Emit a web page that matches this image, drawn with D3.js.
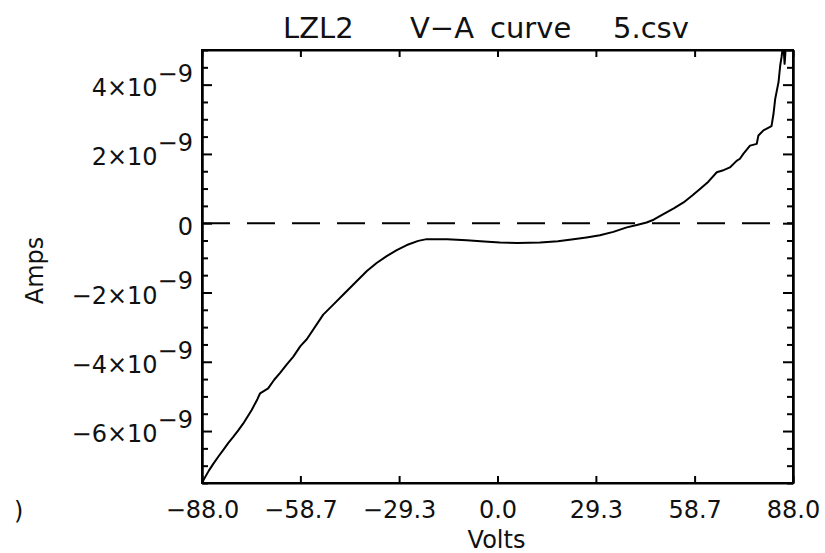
<!DOCTYPE html>
<html>
<head>
<meta charset="utf-8">
<script src="https://cdn.jsdelivr.net/npm/d3@7"></script>
<style>
	body { margin: 0; background: #fff; }
	svg { display: block; font-family: 'DejaVu Sans', sans-serif; }
	.axis path, .axis line { stroke: #000; stroke-width: 2; }
	.axis text { font-family: 'DejaVu Sans', sans-serif; font-size: 24px; fill: #111; }
	.label { font-size: 24px; fill: #111; }
	.title { font-size: 29px; fill: #111; }
</style>
</head>
<body>
<div class="chart"></div>
<script>
'use strict';

// Data: volts and current in nanoamps (1e-9 A).
var volts = [
	-88.0, -87.6, -86.0, -84.6, -83.0, -81.7, -80.2, -78.7, -77.2, -75.7,
	-73.2, -71.5, -70.7, -68.3, -66.5, -64.8, -62.8, -60.8, -58.7, -56.8,
	-51.9, -48.9, -45.9, -42.4, -38.9, -36.0, -33.0, -30.0, -27.0, -23.6,
	-21.1, -15.0, -9.2, -4.0, 0.7, 6.0, 12.7, 18.0, 22.6, 26.5,
	30.5, 34.5, 38.5, 41.5, 44.4, 46.5, 49.4, 52.5, 55.4, 58.0,
	60.3, 62.8, 65.3, 67.0, 69.2, 71.2, 72.2, 73.2, 75.2, 77.2,
	77.7, 79.2, 81.6, 82.2, 82.7, 83.7, 84.2, 84.6, 85.1, 85.5,
	86.0, 88.0
];
var nanoAmps = [
	-7.6, -7.42, -7.15, -6.94, -6.72, -6.55, -6.35, -6.17, -5.98, -5.78,
	-5.39, -5.08, -4.91, -4.77, -4.52, -4.33, -4.08, -3.85, -3.55, -3.35,
	-2.64, -2.35, -2.06, -1.72, -1.38, -1.15, -0.95, -0.78, -0.63, -0.51,
	-0.46, -0.46, -0.49, -0.53, -0.56, -0.57, -0.56, -0.52, -0.46, -0.41,
	-0.35, -0.25, -0.12, -0.05, 0.02, 0.10, 0.26, 0.43, 0.60, 0.80,
	0.99, 1.20, 1.47, 1.52, 1.61, 1.80, 1.86, 2.00, 2.24, 2.29,
	2.53, 2.68, 2.80, 3.16, 3.59, 4.08, 4.56, 4.80, 5.20, 4.60,
	5.30, 5.50
];

var xTicks = [-88.0, -58.7, -29.3, 0.0, 29.3, 58.7, 88.0];
var xTickLabels = ['\u221288.0', '\u221258.7', '\u221229.3', '0.0', '29.3', '58.7', '88.0'];
var yTicks = [-6, -4, -2, 0, 2, 4];
var yTickMantissas = ['\u22126', '\u22124', '\u22122', '0', '2', '4'];
var yExponent = '\u22129';
var yDomain = [-7.5, 5];
var titleWords = ['LZL2', 'V\u2212A', 'curve', '5.csv'];
var titleWordX = [283, 410, 490, 613];



var svgWidth = 825;
var svgHeight = 553;
var margin = {top: 50, right: 32, bottom: 70, left: 202};
var width = svgWidth - margin.left - margin.right;
var height = svgHeight - margin.top - margin.bottom;

var svg = d3.select('.chart').append('svg')
	.attr('width', svgWidth)
	.attr('height', svgHeight);

var g = svg.append('g')
	.attr('transform', `translate(${margin.left}, ${margin.top})`);

var x = d3.scaleLinear().domain([xTicks[0], xTicks[xTicks.length - 1]]).range([0, width]);
var y = d3.scaleLinear().domain(yDomain).range([height, 0]);

// Minor ticks every 0.5 nA on both vertical axes.
var minorTicks = d3.range(yDomain[0], yDomain[1] + 0.001, 0.5)
	.filter(function(d) { return yTicks.indexOf(d) < 0; });



// Clip so the curve stays inside the frame.
svg.append('defs').append('clipPath')
	.attr('id', 'plot-clip')
	.append('rect')
	.attr('width', width)
	.attr('height', height);

// Dashed zero line.
g.append('line')
	.attr('x1', 0)
	.attr('x2', width)
	.attr('y1', y(0))
	.attr('y2', y(0))
	.attr('stroke', '#000')
	.attr('stroke-width', 2)
	.attr('stroke-dasharray', '28,17');

// The V-A curve.
var points = volts.map(function(v, i) { return [v, nanoAmps[i]]; });
var line = d3.line()
	.x(function(d) { return x(d[0]); })
	.y(function(d) { return y(d[1]); });

g.append('path')
	.datum(points)
	.attr('clip-path', 'url(#plot-clip)')
	.attr('fill', 'none')
	.attr('stroke', '#000')
	.attr('stroke-width', 2)
	.attr('stroke-linejoin', 'round')
	.attr('d', line);



// Bottom axis with labels, top axis with ticks only.
g.append('g')
	.attr('class', 'x axis')
	.attr('transform', `translate(0, ${height})`)
	.call(d3.axisBottom(x)
		.tickValues(xTicks)
		.tickSize(-7)
		.tickSizeOuter(0)
		.tickPadding(18)
		.tickFormat(function(d, i) { return xTickLabels[i]; }));

g.append('g')
	.attr('class', 'x axis top')
	.call(d3.axisTop(x)
		.tickValues(xTicks)
		.tickSize(-7)
		.tickSizeOuter(0)
		.tickFormat(''));

// Left axis: major ticks with labels, then the minor ones.
var yAxis = g.append('g')
	.attr('class', 'y axis')
	.call(d3.axisLeft(y)
		.tickValues(yTicks)
		.tickSize(-10)
		.tickSizeOuter(0)
		.tickPadding(9)
		.tickFormat(''));

yAxis.selectAll('.tick text')
	.attr('dy', '0.45em')
	.each(function(d, i) {
		var t = d3.select(this);
		if (d === 0) {
			t.text('0');
			return;
		}
		t.append('tspan').text(yTickMantissas[i] + '\u00d710');
		t.append('tspan').attr('dy', '-0.6em').text(yExponent);
	});

g.append('g')
	.attr('class', 'y axis minor')
	.call(d3.axisLeft(y)
		.tickValues(minorTicks)
		.tickSize(-6)
		.tickSizeOuter(0)
		.tickFormat(''));

// Right axis mirrors the left one, no labels.
g.append('g')
	.attr('class', 'y axis right')
	.attr('transform', `translate(${width}, 0)`)
	.call(d3.axisRight(y)
		.tickValues(yTicks)
		.tickSize(-10)
		.tickSizeOuter(0)
		.tickFormat(''));

g.append('g')
	.attr('class', 'y axis right minor')
	.attr('transform', `translate(${width}, 0)`)
	.call(d3.axisRight(y)
		.tickValues(minorTicks)
		.tickSize(-6)
		.tickSizeOuter(0)
		.tickFormat(''));

// Frame.
g.append('rect')
	.attr('width', width)
	.attr('height', height)
	.attr('fill', 'none')
	.attr('stroke', '#000')
	.attr('stroke-width', 2);



// Title and axis labels.
svg.append('g')
	.attr('class', 'title')
	.selectAll('text')
	.data(titleWords)
	.enter().append('text')
	.attr('x', function(d, i) { return titleWordX[i]; })
	.attr('y', 38)
	.text(function(d) { return d; });

svg.append('text')
	.attr('class', 'label')
	.attr('x', margin.left + x(0) - 1)
	.attr('y', 548)
	.attr('text-anchor', 'middle')
	.text('Volts');

svg.append('text')
	.attr('class', 'label')
	.attr('transform', `translate(43, ${margin.top + height / 2 + 4}) rotate(-90)`)
	.attr('text-anchor', 'middle')
	.text('Amps');

// Leftover glyph at the lower left edge of the original image.
svg.append('text')
	.attr('class', 'label')
	.attr('x', 14)
	.attr('y', 519)
	.text(')');
</script>
</body>
</html>
